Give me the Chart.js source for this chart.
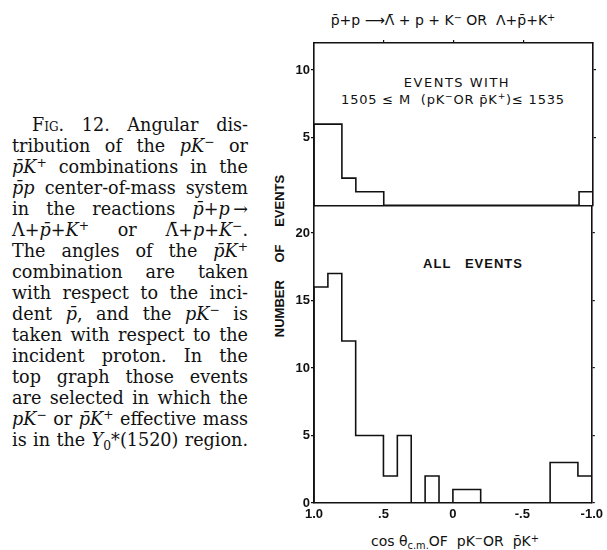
<!DOCTYPE html>
<html>
<head>
<meta charset="utf-8">
<script src="https://cdn.jsdelivr.net/npm/chart.js@4.4.1/dist/chart.umd.min.js"></script>
<style>
body { margin:0; width:607px; height:550px; background:#fff; position:relative; overflow:hidden; }
canvas { position:absolute; }
.lbl { position:absolute; transform:translate(-50%,-50%); white-space:nowrap; line-height:1; color:#111; font-family:"DejaVu Sans"; }
.ln { position:absolute; left:12px; width:236px; height:21px; line-height:21px; font-family:"DejaVu Serif"; font-size:17.6px; color:#111;
      text-align:justify; text-align-last:justify; white-space:normal; }
.ln sup, .lbl sup { font-size:70%; vertical-align:0.45em; line-height:0; }
.ln sub, .lbl sub { font-size:70%; vertical-align:-0.3em; line-height:0; }
</style>
</head>
<body>
<div id="caption"></div>

<div class="lbl" style="left:443px;top:20px;font-size:14px;">p&#772;+p &#10230;&#923;&#772; + p + K<sup>&minus;</sup> OR &nbsp;&#923;+p&#772;+K<sup>+</sup></div>
<div class="lbl" style="left:457px;top:82px;font-size:13px;letter-spacing:1.5px;">EVENTS WITH</div>
<div class="lbl" style="left:453px;top:99px;font-size:13px;letter-spacing:0.8px;">1505 &le; M &nbsp;(pK<sup>&minus;</sup>OR p&#772;K<sup>+</sup>)&le; 1535</div>
<div class="lbl" style="left:473px;top:263px;font-size:13px;font-weight:bold;font-family:'Liberation Sans';letter-spacing:1px;">ALL &nbsp;&nbsp;EVENTS</div>
<div class="lbl" style="left:279px;top:256px;font-size:13px;font-weight:bold;font-family:'Liberation Sans';word-spacing:14px;transform:translate(-50%,-50%) rotate(-90deg);">NUMBER OF EVENTS</div>
<div class="lbl" style="left:455px;top:541px;font-size:14px;">cos &theta;<sub>c.m.</sub>OF &nbsp;pK<sup>&minus;</sup>OR &nbsp;p&#772;K<sup>+</sup></div>

<canvas id="top" width="327" height="184" style="left:280px;top:30px;"></canvas>
<canvas id="bottom" width="327" height="354" style="left:280px;top:196px;"></canvas>

<script>
// histogram bins of cos theta, 0.1 wide, read from 1.0 down to -1.0
const binEdges = [1.0, 0.9, 0.8, 0.7, 0.6, 0.5, 0.4, 0.3, 0.2, 0.1, 0.0,
                  -0.1, -0.2, -0.3, -0.4, -0.5, -0.6, -0.7, -0.8, -0.9, -1.0];
const selectedCounts = [6, 6, 2, 1, 1, 0, 0, 0, 0, 0, 0, 0, 0, 0, 0, 0, 0, 0, 0, 1];
const allCounts = [16, 17, 12, 5, 5, 2, 5, 0, 2, 0, 1, 1, 0, 0, 0, 0, 0, 3, 3, 2];
const xTicks = [1, 0.5, 0, -0.5, -1];
const xTickLabels = ['1.0', '.5', '0', '-.5', '-1.0'];
const topTicks = [5, 10];
const bottomTicks = [0, 5, 10, 15, 20];

const captionLines = [
  '<span style="font-variant:small-caps">Fig.</span> 12. Angular dis-',
  'tribution of the <i>pK</i><sup>&minus;</sup> or',
  '<i>p&#772;K</i><sup>+</sup> combinations in the',
  '<i>p&#772;p</i> center-of-mass system',
  'in the reactions <i>p&#772;</i>+<i>p</i>&thinsp;&rarr;',
  '&Lambda;+<i>p&#772;</i>+<i>K</i><sup>+</sup> or &Lambda;&#772;+<i>p</i>+<i>K</i><sup>&minus;</sup>.',
  'The angles of the <i>p&#772;K</i><sup>+</sup>',
  'combination are taken',
  'with respect to the inci-',
  'dent <i>p&#772;</i>, and the <i>pK</i><sup>&minus;</sup> is',
  'taken with respect to the',
  'incident proton. In the',
  'top graph those events',
  'are selected in which the',
  '<i>pK</i><sup>&minus;</sup> or <i>p&#772;K</i><sup>+</sup> effective mass',
  'is in the <i>Y</i><sub>0</sub>*(1520) region.'
];
const cap = document.getElementById('caption');
captionLines.forEach((html, i) => {
  const d = document.createElement('div');
  d.className = 'ln';
  d.style.top = (114.5 + i * 21) + 'px';
  d.innerHTML = html;
  if (i === 0) { d.style.left = '32px'; d.style.width = '216px'; }
  cap.appendChild(d);
});

const ink = '#111';
const tickFont = { family: 'Liberation Sans', size: 13, weight: 'bold' };

function stepPoints(counts) {
  const pts = [{ x: binEdges[0], y: 0 }];
  counts.forEach((c, i) => pts.push({ x: binEdges[i], y: c }));
  pts.push({ x: binEdges[binEdges.length - 1], y: 0 });
  return pts;
}

function histDataset(counts, xid) {
  return {
    data: stepPoints(counts),
    xAxisID: xid,
    stepped: 'before',
    borderColor: ink,
    borderWidth: 1.6,
    pointRadius: 0,
    fill: false
  };
}

function yAxis(max, ticks, side, width) {
  return {
    type: 'linear',
    position: side,
    min: 0,
    max: max,
    afterBuildTicks: s => { s.ticks = ticks.map(v => ({ value: v })); },
    afterFit: s => { s.width = width; },
    ticks: { display: side === 'left', font: tickFont, color: ink, padding: 1 },
    grid: { drawOnChartArea: false, tickLength: 3, color: ink, lineWidth: 1.2 },
    border: { color: ink, width: 1.6 }
  };
}

function xAxis(side, height, showLabels, tickMarks) {
  return {
    type: 'linear',
    position: side,
    min: -1,
    max: 1,
    reverse: true,
    afterBuildTicks: s => {
      s.ticks = xTicks.filter(v => showLabels || Math.abs(v) < 1).map(v => ({ value: v }));
    },
    afterFit: s => { s.height = height; },
    ticks: {
      display: showLabels,
      font: tickFont,
      color: ink,
      padding: 4,
      maxRotation: 0,
      autoSkip: false,
      callback: v => xTickLabels[xTicks.indexOf(v)]
    },
    grid: { drawOnChartArea: false, drawTicks: tickMarks, tickLength: 3, color: ink, lineWidth: 1.2 },
    border: { color: ink, width: 1.6 }
  };
}

const common = {
  responsive: false,
  animation: false,
  events: [],
  plugins: { legend: { display: false }, tooltip: { enabled: false } }
};

new Chart(document.getElementById('top'), {
  type: 'line',
  data: { datasets: [histDataset(selectedCounts, 'xt')] },
  options: Object.assign({}, common, {
    layout: { padding: { bottom: 8 } },
    scales: {
      xt: xAxis('top', 13, false, true),
      y: yAxis(12, topTicks, 'left', 34),
      yr: yAxis(12, topTicks, 'right', 14)
    }
  })
});

new Chart(document.getElementById('bottom'), {
  type: 'line',
  data: { datasets: [histDataset(allCounts, 'x')] },
  options: Object.assign({}, common, {
    scales: {
      x: xAxis('bottom', 47, true, false),
      xt: xAxis('top', 10, false, false),
      y: yAxis(22, bottomTicks, 'left', 34),
      yr: yAxis(22, bottomTicks, 'right', 14)
    }
  })
});
</script>
</body>
</html>
